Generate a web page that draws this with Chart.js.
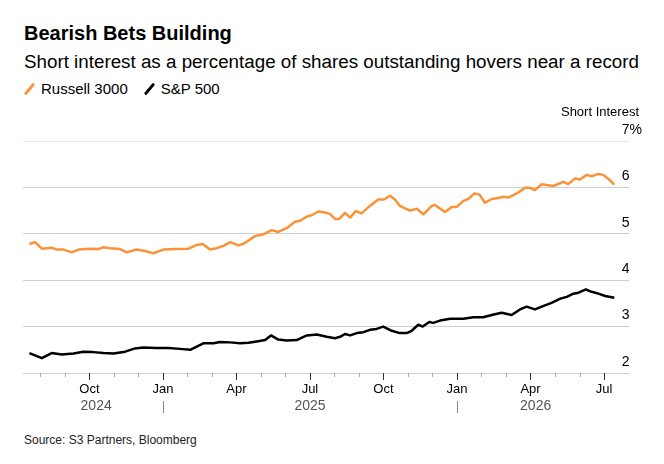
<!DOCTYPE html>
<html>
<head>
<meta charset="utf-8">
<script src="https://cdn.jsdelivr.net/npm/chart.js@4.4.1/dist/chart.umd.min.js"></script>
<style>
  body { margin:0; width:664px; height:464px; background:#fff; font-family:"Liberation Sans", Arial, sans-serif; position:relative; overflow:hidden; color:#000; }
  #title { position:absolute; left:24px; top:21px; font-size:20px; font-weight:bold; line-height:24px; }
  #subtitle { position:absolute; left:24px; top:51px; font-size:18.8px; line-height:22px; }
  #legend { position:absolute; left:24px; top:80px; font-size:15px; line-height:17px; display:flex; align-items:center; }
  .key { display:inline-block; width:3px; height:14px; transform:rotate(40deg); border-radius:1px; margin:0 10px 0 4px; }
  #source { position:absolute; left:24px; top:433px; font-size:12px; line-height:14px; color:#222; }
  #wrap { position:absolute; left:0; top:100px; width:664px; height:330px; }
</style>
</head>
<body>
<div id="title">Bearish Bets Building</div>
<div id="subtitle">Short interest as a percentage of shares outstanding hovers near a record</div>
<div id="legend">
  <span class="key" style="background:#fa9338"></span><span>Russell 3000</span>
  <span class="key" style="background:#000; margin-left:20px"></span><span>S&amp;P 500</span>
</div>
<div id="wrap"><canvas id="chart" width="664" height="330"></canvas></div>
<div id="source">Source: S3 Partners, Bloomberg</div>
<script>
// x values are months since 1 Jul 2024
const russellMonths = [0.55,0.78,1.06,1.46,1.67,1.94,2.28,2.55,3.03,3.37,3.57,3.84,4.25,4.52,4.93,5.27,5.61,6.02,6.56,7.04,7.38,7.63,7.92,8.20,8.47,8.75,9.08,9.31,9.76,10.10,10.44,10.71,11.05,11.39,11.60,11.87,12.07,12.34,12.62,12.82,13.02,13.20,13.43,13.64,13.87,14.11,14.38,14.79,15.02,15.27,15.47,15.67,16.08,16.36,16.63,16.97,17.10,17.51,17.78,17.99,18.26,18.46,18.71,18.91,19.14,19.42,19.69,19.89,20.09,20.44,20.78,20.98,21.18,21.46,21.66,21.93,22.34,22.54,22.81,23.02,23.29,23.50,23.77,23.97,24.21,24.42];
const russellValues = [4.78,4.82,4.68,4.70,4.66,4.66,4.60,4.66,4.68,4.67,4.71,4.69,4.67,4.60,4.66,4.63,4.58,4.66,4.67,4.68,4.76,4.78,4.66,4.69,4.74,4.82,4.75,4.79,4.95,4.99,5.08,5.04,5.12,5.26,5.28,5.37,5.40,5.48,5.46,5.43,5.32,5.32,5.45,5.35,5.49,5.44,5.57,5.74,5.74,5.82,5.74,5.60,5.50,5.54,5.42,5.60,5.62,5.47,5.58,5.58,5.71,5.75,5.87,5.85,5.67,5.75,5.77,5.80,5.78,5.87,5.99,5.99,5.94,6.07,6.05,6.03,6.12,6.07,6.19,6.17,6.27,6.24,6.29,6.27,6.17,6.06];
const spMonths = [0.55,1.06,1.46,1.87,2.35,2.75,3.16,3.57,3.98,4.46,4.86,5.20,5.75,6.22,6.70,7.11,7.38,7.65,8.06,8.33,8.74,9.15,9.49,9.83,10.17,10.41,10.71,11.05,11.46,11.87,12.28,12.68,13.02,13.23,13.43,13.64,13.91,14.18,14.45,14.72,14.99,15.34,15.67,15.95,16.15,16.42,16.60,16.87,17.03,17.31,17.72,18.26,18.67,19.07,19.42,19.82,20.23,20.57,20.84,21.18,21.46,21.86,22.20,22.48,22.75,22.96,23.26,23.50,23.77,24.05,24.42];
const spValues = [2.43,2.32,2.43,2.40,2.42,2.46,2.45,2.43,2.42,2.46,2.53,2.55,2.54,2.54,2.52,2.50,2.57,2.64,2.64,2.67,2.66,2.64,2.65,2.68,2.71,2.81,2.72,2.70,2.71,2.81,2.83,2.78,2.75,2.78,2.84,2.81,2.86,2.88,2.93,2.95,3.00,2.91,2.86,2.86,2.91,3.04,3.00,3.10,3.08,3.13,3.17,3.17,3.20,3.20,3.25,3.30,3.25,3.37,3.43,3.37,3.43,3.51,3.60,3.64,3.71,3.73,3.80,3.75,3.71,3.66,3.62];

const monthNames = ['Jul','Aug','Sep','Oct','Nov','Dec','Jan','Feb','Mar','Apr','May','Jun'];
const monthTicks = [1,2,3,4,5,6,7,8,9,10,11,12,13,14,15,16,17,18,19,20,21,22,23,24];
const yearLabels = ['2024','2025','2026'];
const yTicks = [2,3,4,5,6,7];

function toPoints(xs, ys) {
  return xs.map((m, i) => ({x: m, y: ys[i]}));
}

// tick marks, year row and the axis title
const axisExtras = {
  id: 'axisExtras',
  afterDraw(chart) {
    const {ctx, chartArea, scales: {x, y}} = chart;
    const base = y.getPixelForValue(yTicks[0]);
    ctx.save();
    x.ticks.forEach(t => {
      const px = Math.round(x.getPixelForValue(t.value)) + 0.5;
      const major = t.value % 3 === 0;
      ctx.strokeStyle = major ? '#333' : '#aaa';
      ctx.lineWidth = 1;
      ctx.beginPath();
      ctx.moveTo(px, base);
      ctx.lineTo(px, base + (major ? 7 : 4));
      ctx.stroke();
    });

    const first = Math.min(russellMonths[0], spMonths[0]);
    const last = Math.max(russellMonths[russellMonths.length - 1], spMonths[spMonths.length - 1]);
    ctx.font = '14px "Liberation Sans", Arial, sans-serif';
    ctx.fillStyle = '#555';
    ctx.textAlign = 'center';
    ctx.textBaseline = 'middle';
    yearLabels.forEach((yr, i) => {
      const start = Math.max(first, i * 12 - 6);
      const end = Math.min(last, i * 12 + 6);
      ctx.fillText(yr, x.getPixelForValue((start + end) / 2), base + 33);
      if (i > 0) {
        const px = Math.round(x.getPixelForValue(i * 12 - 6)) + 0.5;
        ctx.strokeStyle = '#888';
        ctx.beginPath();
        ctx.moveTo(px, base + 28);
        ctx.lineTo(px, base + 40);
        ctx.stroke();
      }
    });

    ctx.font = '13px "Liberation Sans", Arial, sans-serif';
    ctx.fillStyle = '#000';
    ctx.textAlign = 'right';
    ctx.fillText('Short Interest', chartArea.right + 10, chartArea.top - 29);
    ctx.restore();
  }
};

new Chart(document.getElementById('chart'), {
  type: 'line',
  data: {
    datasets: [
      {
        label: 'Russell 3000',
        data: toPoints(russellMonths, russellValues),
        borderColor: '#fa9338',
        borderWidth: 2.5,
        pointRadius: 0,
        tension: 0,
        borderJoinStyle: 'round'
      },
      {
        label: 'S&P 500',
        data: toPoints(spMonths, spValues),
        borderColor: '#000',
        borderWidth: 2.5,
        pointRadius: 0,
        tension: 0,
        borderJoinStyle: 'round'
      }
    ]
  },
  options: {
    responsive: false,
    animation: false,
    devicePixelRatio: 1,
    layout: { padding: { top: 41, left: 23, right: 0, bottom: 0 } },
    scales: {
      x: {
        type: 'linear',
        min: 0.29,
        max: 25.02,
        afterBuildTicks: s => { s.ticks = monthTicks.map(v => ({value: v})); },
        afterFit: s => { s.height = 57; },
        grid: { display: false },
        border: { display: false },
        ticks: {
          autoSkip: false,
          maxRotation: 0,
          padding: 1,
          color: '#000',
          font: { size: 13, family: '"Liberation Sans", Arial, sans-serif' },
          callback: v => v % 3 === 0 ? monthNames[v % 12] : ''
        }
      },
      y: {
        position: 'right',
        min: 2,
        max: 7,
        afterBuildTicks: s => { s.ticks = yTicks.map(v => ({value: v})); },
        afterFit: s => { s.width = 35; },
        grid: {
          drawTicks: false,
          color: ctx => ctx.tick && ctx.tick.value === 7 ? '#e4e4e4' : '#cfcfcf'
        },
        border: { display: false },
        ticks: {
          mirror: true,
          crossAlign: 'far',
          padding: 13,
          labelOffset: -11,
          color: '#000',
          font: { size: 14, family: '"Liberation Sans", Arial, sans-serif' },
          callback: v => v === 7 ? '7%' : v
        }
      }
    },
    plugins: {
      legend: { display: false },
      tooltip: { enabled: false }
    }
  },
  plugins: [axisExtras]
});
</script>
</body>
</html>
